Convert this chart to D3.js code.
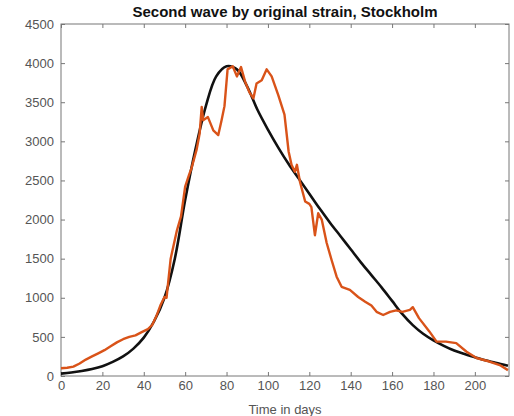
<!DOCTYPE html>
<html>
  <head>
    <meta charset="utf-8">
    <title>Second wave</title>
    <style>
    body { margin: 0; background: #fff; }
    text { font-family: "Liberation Sans", Arial, sans-serif; }
    .axis text { fill: #555; font-size: 13px; }
    .axis line { stroke: #777; }
    .axis path { display: none; }
    </style>
  </head>
  <body>
    <svg width="514" height="416"></svg>
    <script src="https://d3js.org/d3.v7.min.js"></script>
    <script>

      // model curve (black)
      var modelDays = [0, 5, 10, 15, 20, 25, 30, 35, 40, 45, 50, 55, 60, 65, 70, 75, 80, 85, 90, 95,
                       100, 105, 110, 115, 120, 125, 130, 135, 140, 145, 150, 155, 160, 165, 170, 175,
                       180, 185, 190, 195, 200, 205, 210, 216];
      var modelCases = [30, 45, 65, 90, 125, 180, 250, 350, 490, 700, 1000, 1500, 2250, 2900, 3450, 3830,
                        3960, 3920, 3700, 3400, 3150, 2920, 2710, 2520, 2330, 2140, 1960, 1790, 1620, 1450,
                        1290, 1130, 960, 790, 650, 540, 455, 385, 325, 280, 240, 200, 170, 130];

      // observed data (orange)
      var obsDays = [0, 3, 6, 9, 12, 15, 18, 21, 24, 27, 30, 33, 36, 39, 42, 44, 46, 48, 50, 51, 53, 56,
                     58, 60, 62, 63, 65.5, 67, 68, 68.7, 71, 73.6, 76, 77.6, 79, 80.5, 83, 85, 87, 89, 91,
                     93, 94.5, 97, 99.4, 101.8, 105, 108, 110, 111.4, 113, 114, 115.5, 118, 120, 121, 122.7,
                     124.3, 126, 128.4, 130.8, 133.2, 135.6, 139.6, 143.6, 147, 150, 152.5, 155.7, 159, 162,
                     165, 168.6, 170, 173, 178, 181.5, 186, 191, 196, 200.8, 207, 212, 216];
      var obsCases = [100, 105, 120, 160, 210, 250, 290, 330, 380, 430, 470, 500, 520, 560, 600, 650, 760,
                      900, 1010, 1000, 1500, 1860, 2040, 2420, 2580, 2650, 2890, 3100, 3440, 3270, 3310, 3140,
                      3080, 3270, 3450, 3920, 3960, 3830, 3950, 3760, 3630, 3550, 3740, 3780, 3920, 3830, 3590,
                      3340, 2870, 2700, 2610, 2700, 2480, 2230, 2200, 2160, 1800, 2080, 2000, 1700, 1480, 1270,
                      1140, 1100, 1010, 950, 900, 820, 780, 820, 840, 820, 845, 880, 740, 570, 440, 440, 420,
                      310, 230, 185, 140, 75];

      var xTicks = [0, 20, 40, 60, 80, 100, 120, 140, 160, 180, 200];
      var yTicks = [0, 500, 1000, 1500, 2000, 2500, 3000, 3500, 4000, 4500];

      var svg = d3.select("svg"),
          margin = {top: 24, right: 5, bottom: 40, left: 61},
          width = +svg.attr("width") - margin.left - margin.right,
          height = +svg.attr("height") - margin.top - margin.bottom;

      var x = d3.scaleLinear().domain([0, 216.5]).range([0, width]),
          y = d3.scaleLinear().domain([0, 4500]).range([height, 0]);

      var g = svg.append("g")
          .attr("transform", "translate(" + margin.left + "," + margin.top + ")");

      g.append("g")
          .attr("class", "axis")
          .attr("transform", "translate(0," + height + ")")
          .call(d3.axisBottom(x).tickValues(xTicks).tickFormat(d3.format("d"))
              .tickSizeInner(-4).tickSizeOuter(0).tickPadding(5));

      g.append("g")
          .attr("class", "axis")
          .call(d3.axisTop(x).tickValues(xTicks).tickSizeInner(-4).tickSizeOuter(0).tickFormat(""));

      g.append("g")
          .attr("class", "axis")
          .call(d3.axisLeft(y).tickValues(yTicks).tickFormat(d3.format("d"))
              .tickSizeInner(-4).tickSizeOuter(0).tickPadding(7));

      g.append("g")
          .attr("class", "axis")
          .attr("transform", "translate(" + width + ",0)")
          .call(d3.axisRight(y).tickValues(yTicks).tickSizeInner(-4).tickSizeOuter(0).tickFormat(""));

      g.append("rect")
          .attr("width", width)
          .attr("height", height)
          .attr("fill", "none")
          .attr("stroke", "#777");

      var model = modelDays.map(function(d, i) { return [d, modelCases[i]]; });
      var obs = obsDays.map(function(d, i) { return [d, obsCases[i]]; });

      g.append("path")
          .datum(model)
          .attr("fill", "none")
          .attr("stroke", "#111")
          .attr("stroke-width", 2.6)
          .attr("d", d3.line().curve(d3.curveCatmullRom)
              .x(function(d) { return x(d[0]); })
              .y(function(d) { return y(d[1]); }));

      g.append("path")
          .datum(obs)
          .attr("fill", "none")
          .attr("stroke", "#d95319")
          .attr("stroke-width", 2.4)
          .attr("stroke-linejoin", "round")
          .attr("d", d3.line()
              .x(function(d) { return x(d[0]); })
              .y(function(d) { return y(d[1]); }));

      svg.append("text")
          .attr("x", margin.left + width / 2)
          .attr("y", 17)
          .attr("text-anchor", "middle")
          .attr("font-weight", "bold")
          .attr("font-size", "15px")
          .attr("fill", "#111")
          .text("Second wave by original strain, Stockholm");

      svg.append("text")
          .attr("x", margin.left + width / 2)
          .attr("y", 414)
          .attr("text-anchor", "middle")
          .attr("font-size", "13px")
          .attr("fill", "#555")
          .text("Time in days");
    </script>
  </body>
</html>
